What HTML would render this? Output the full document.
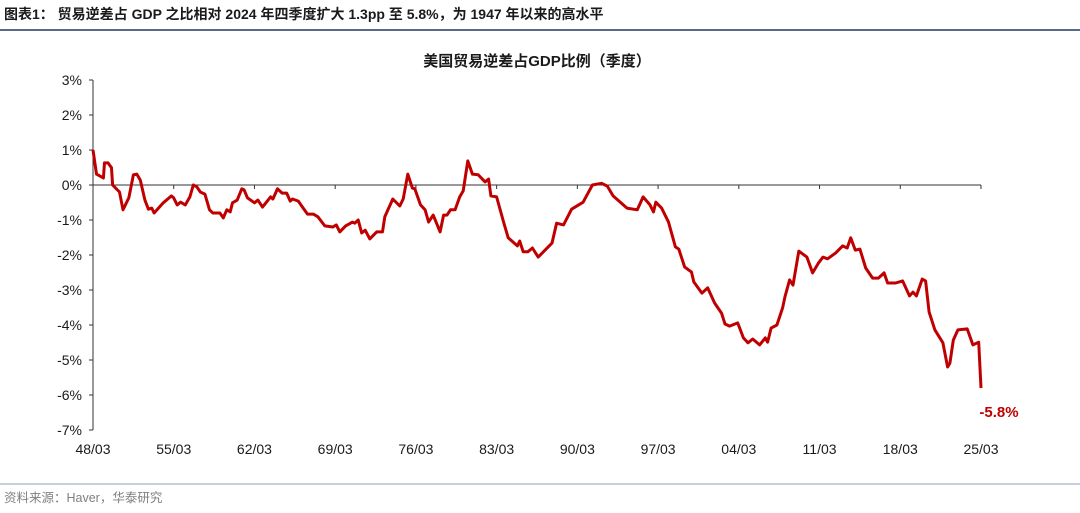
<!DOCTYPE html>
<html><head><meta charset="utf-8"><style>
body{margin:0;background:#fff;width:1080px;height:508px;overflow:hidden;font-family:"Liberation Sans","Noto Sans CJK SC",sans-serif}
</style></head><body>
<svg width="1080" height="508" id="chart" font-family="Liberation Sans, Noto Sans CJK SC, sans-serif">
<text x="4" y="19" font-size="14" font-weight="bold" fill="#1a1a1a">图表1：  贸易逆差占 GDP 之比相对 2024 年四季度扩大 1.3pp 至 5.8%，为 1947 年以来的高水平</text>
<line x1="0" y1="30" x2="1080" y2="30" stroke="#1f3864" stroke-width="1.5"/>
<text x="537" y="66" font-size="15" font-weight="bold" text-anchor="middle" fill="#1a1a1a">美国贸易逆差占GDP比例（季度）</text>
<g id="axes"></g>
<g id="plot"></g>
<line x1="0" y1="484" x2="1080" y2="484" stroke="#8ea0c0" stroke-width="1"/>
<text x="4" y="502" font-size="12.5" fill="#7f7f7f">资料来源：Haver，华泰研究</text>
</svg>
<script>
const years=[1948.0,1948.3,1948.9,1949.0,1949.3,1949.6,1949.7,1950.3,1950.6,1951.1,1951.5,1951.8,1952.1,1952.5,1952.8,1953.1,1953.3,1954.1,1954.8,1955.0,1955.3,1955.6,1956.0,1956.4,1956.7,1957.0,1957.3,1957.7,1958.1,1958.4,1958.8,1959.0,1959.3,1959.6,1959.9,1960.1,1960.5,1960.9,1961.1,1961.4,1962.0,1962.3,1962.7,1963.4,1963.6,1964.0,1964.4,1964.8,1965.1,1965.3,1965.8,1966.1,1966.6,1967.1,1967.5,1968.1,1968.8,1969.1,1969.4,1969.9,1970.5,1970.7,1971.0,1971.3,1971.6,1972.0,1972.6,1973.1,1973.3,1974.0,1974.6,1974.9,1975.3,1975.7,1975.9,1976.4,1976.8,1977.1,1977.5,1978.1,1978.4,1978.7,1979.0,1979.4,1979.8,1980.1,1980.5,1980.9,1981.4,1982.0,1982.3,1982.5,1983.0,1983.6,1984.0,1984.8,1985.0,1985.3,1985.7,1986.1,1986.6,1987.8,1988.2,1988.8,1989.5,1990.5,1991.3,1992.1,1992.6,1993.1,1994.3,1995.2,1995.7,1996.3,1996.6,1996.8,1997.3,1997.9,1998.5,1998.8,1999.3,1999.9,2000.1,2000.8,2001.3,2001.9,2002.5,2002.8,2003.2,2003.9,2004.4,2004.8,2005.2,2005.8,2006.3,2006.5,2006.8,2007.3,2007.8,2008.0,2008.4,2008.7,2009.2,2009.9,2010.4,2010.9,2011.3,2011.7,2012.4,2013.0,2013.4,2013.7,2014.1,2014.5,2015.0,2015.6,2016.1,2016.6,2016.9,2017.6,2018.2,2018.8,2019.1,2019.4,2019.9,2020.2,2020.5,2021.0,2021.7,2022.1,2022.3,2022.6,2023.0,2023.8,2024.3,2024.8,2025.0];
const values=[1.0,0.31,0.2,0.63,0.63,0.49,0,-0.2,-0.71,-0.37,0.29,0.31,0.14,-0.43,-0.69,-0.66,-0.8,-0.51,-0.31,-0.37,-0.57,-0.49,-0.57,-0.34,0,-0.05,-0.2,-0.26,-0.71,-0.8,-0.8,-0.8,-0.94,-0.71,-0.77,-0.51,-0.43,-0.11,-0.14,-0.37,-0.51,-0.43,-0.63,-0.34,-0.4,-0.11,-0.23,-0.23,-0.46,-0.4,-0.46,-0.6,-0.83,-0.83,-0.91,-1.17,-1.2,-1.14,-1.34,-1.17,-1.06,-1.09,-1.0,-1.37,-1.29,-1.54,-1.34,-1.34,-0.91,-0.4,-0.6,-0.4,0.31,-0.09,-0.11,-0.57,-0.71,-1.06,-0.86,-1.34,-0.86,-0.86,-0.71,-0.71,-0.34,-0.17,0.69,0.31,0.29,0.09,0.17,-0.31,-0.34,-1.06,-1.51,-1.74,-1.6,-1.91,-1.91,-1.8,-2.06,-1.66,-1.09,-1.14,-0.69,-0.49,0,0.05,-0.03,-0.31,-0.66,-0.71,-0.34,-0.57,-0.77,-0.49,-0.66,-1.06,-1.77,-1.83,-2.34,-2.49,-2.77,-3.09,-2.94,-3.37,-3.66,-3.97,-4.03,-3.94,-4.37,-4.51,-4.4,-4.57,-4.37,-4.49,-4.09,-4.0,-3.51,-3.2,-2.71,-2.86,-1.89,-2.06,-2.51,-2.23,-2.06,-2.11,-1.94,-1.74,-1.8,-1.51,-1.86,-1.83,-2.37,-2.66,-2.66,-2.51,-2.8,-2.8,-2.74,-3.17,-3.06,-3.17,-2.69,-2.74,-3.63,-4.14,-4.51,-5.2,-5.09,-4.43,-4.14,-4.11,-4.57,-4.49,-5.8];
const yTicks=[3,2,1,0,-1,-2,-3,-4,-5,-6,-7];
const xTickYears=[1948,1955,1962,1969,1976,1983,1990,1997,2004,2011,2018,2025];
const xTickLabels=["48/03","55/03","62/03","69/03","76/03","83/03","90/03","97/03","04/03","11/03","18/03","25/03"];
const endLabel="-5.8%";

const NS="http://www.w3.org/2000/svg";
const X0=93,X1=981,Y0=80,PX=35;
const xs=y=>X0+(y-1948)*(X1-X0)/77;
const ys=v=>Y0+(3-v)*PX;
function mk(tag,attrs,parent){const e=document.createElementNS(NS,tag);for(const k in attrs)e.setAttribute(k,attrs[k]);parent.appendChild(e);return e;}
const axes=document.getElementById('axes'),plot=document.getElementById('plot');
let ya=mk('line',{x1:X0,y1:ys(3),x2:X0,y2:ys(-7),stroke:'#333','stroke-width':1},axes);


yTicks.forEach(v=>{
  let t=mk('line',{x1:X0-4,y1:ys(v),x2:X0,y2:ys(v),stroke:'#333'},axes);
  
  
  let l=mk('text',{x:X0-11,y:ys(v)+5,'font-size':14,'text-anchor':'end',fill:'#1a1a1a'},axes);
  l.textContent=v+'%';
  
  
});
let xa=mk('line',{x1:X0,y1:ys(0),x2:X1,y2:ys(0),stroke:'#333','stroke-width':1},axes);


xTickYears.forEach((yr,i)=>{
  let t=mk('line',{x1:xs(yr),y1:ys(0),x2:xs(yr),y2:ys(0)+4,stroke:'#333'},axes);
  
  
  let l=mk('text',{x:xs(yr),y:454,'font-size':14,'text-anchor':'middle',fill:'#1a1a1a'},axes);
  l.textContent=xTickLabels[i];
  
  
});
const pts=years.map((y,i)=>xs(y).toFixed(1)+','+ys(values[i]).toFixed(1)).join(' ');
let line=mk('polyline',{points:pts,fill:'none',stroke:'#c00000','stroke-width':3,'stroke-linejoin':'round'},plot);


let el=mk('text',{x:xs(years[years.length-1])+18,y:ys(values[values.length-1])+29,'font-size':15,'font-weight':'bold','text-anchor':'middle',fill:'#c00000'},plot);
el.textContent=endLabel;


</script>
</body></html>
